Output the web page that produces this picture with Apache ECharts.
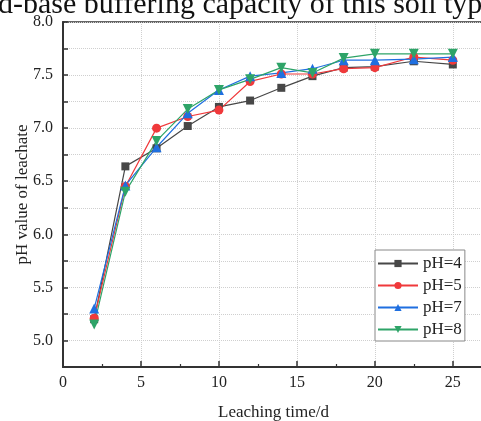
<!DOCTYPE html>
<html>
<head>
<meta charset="utf-8">
<script src="https://cdn.jsdelivr.net/npm/echarts@6/dist/echarts.min.js"></script>
<style>
  html, body { margin: 0; padding: 0; background: #fff; }
  #chart { width: 481px; height: 421px; }
</style>
</head>
<body>
<div id="chart"></div>
<script>
// Leaching time (days) at which leachate pH was measured
var leachDays = [2, 4, 6, 8, 10, 12, 14, 16, 18, 20, 22.5, 25];

// Leachate pH for each simulated rain pH
var pH4 = [5.20, 6.64, 6.81, 7.02, 7.20, 7.26, 7.38, 7.49, 7.57, 7.58, 7.63, 7.60];
var pH5 = [5.21, 6.45, 7.00, 7.11, 7.17, 7.44, 7.51, 7.51, 7.56, 7.57, 7.67, 7.64];
var pH7 = [5.30, 6.46, 6.82, 7.14, 7.36, 7.49, 7.52, 7.56, 7.64, 7.64, 7.65, 7.67];
var pH8 = [5.15, 6.40, 6.88, 7.18, 7.36, 7.46, 7.57, 7.52, 7.66, 7.70, 7.70, 7.70];

var seriesNames = ['pH=4', 'pH=5', 'pH=7', 'pH=8'];
var xTicks = [0, 5, 10, 15, 20, 25];

var FONT = '"Liberation Serif", "Times New Roman", serif';

function pairs(xs, ys) {
  return xs.map(function (x, i) { return [x, ys[i]]; });
}

function lineSeries(name, values, color, symbol, size, rotate) {
  return {
    name: name,
    type: 'line',
    data: pairs(leachDays, values),
    symbol: symbol,
    symbolSize: size,
    symbolRotate: rotate || 0,
    showSymbol: true,
    lineStyle: { color: color, width: 1.2 },
    itemStyle: { color: color },
    emphasis: { disabled: true },
    animation: false
  };
}

var chart = echarts.init(document.getElementById('chart'));
chart.setOption({
  backgroundColor: '#fff',
  animation: false,
  grid: {
    left: 63, top: 22, width: 421, height: 345,
    outerBoundsMode: 'none',
    containLabel: false,
    show: true, borderColor: '#333', borderWidth: 1.5,
    backgroundColor: 'transparent'
  },
  graphic: [{
    type: 'text',
    left: -2,
    top: -10,
    style: {
      text: 'd-base buffering capacity of this soil type',
      font: '30px ' + FONT,
      fill: '#111'
    }
  }],
  legend: {
    orient: 'vertical',
    left: 375,
    top: 250,
    data: seriesNames,
    itemWidth: 40,
    itemHeight: 9,
    itemGap: 5,
    padding: [5, 3, 3, 2],
    borderColor: '#888',
    borderWidth: 1,
    backgroundColor: '#fff',
    textStyle: { fontFamily: FONT, fontSize: 17, color: '#222', lineHeight: 17 }
  },
  xAxis: {
    type: 'value',
    min: 0,
    max: 27,
    interval: 5,
    name: 'Leaching time/d',
    nameLocation: 'middle',
    nameGap: 37,
    nameMoveOverlap: false,
    nameTextStyle: { fontFamily: FONT, fontSize: 17, color: '#222' },
    axisLine: { show: true, lineStyle: { color: '#333', width: 2 } },
    axisTick: { show: true, inside: true, length: 6, lineStyle: { color: '#333', width: 1.5 } },
    minorTick: { show: true, splitNumber: 2, length: 3, lineStyle: { color: '#333', width: 1.2 } },
    axisLabel: {
      fontFamily: FONT, fontSize: 16, color: '#222', margin: 8,
      formatter: function (v) { return xTicks.indexOf(v) >= 0 ? String(v) : ''; }
    },
    splitLine: { show: true, lineStyle: { color: '#cfcfcf', type: 'dotted', width: 1 } }
  },
  yAxis: {
    type: 'value',
    min: 4.75,
    max: 8.0,
    interval: 0.25,
    name: 'pH value of leachate',
    nameLocation: 'middle',
    nameGap: 32,
    nameMoveOverlap: false,
    nameTextStyle: { fontFamily: FONT, fontSize: 17, color: '#222' },
    axisLine: { show: true, lineStyle: { color: '#333', width: 2 } },
    axisTick: { show: true, inside: true, length: 5, lineStyle: { color: '#333', width: 1.5 } },
    axisLabel: {
      fontFamily: FONT, fontSize: 16, color: '#222', margin: 10,
      formatter: function (v) {
        var d = v * 2;
        return Math.abs(d - Math.round(d)) < 1e-6 && v > 4.9 ? v.toFixed(1) : '';
      }
    },
    splitLine: { show: true, lineStyle: { color: '#cfcfcf', type: 'dotted', width: 1 } }
  },
  series: [
    lineSeries('pH=4', pH4, '#474747', 'rect', 8),
    lineSeries('pH=5', pH5, '#f0393b', 'circle', 9),
    lineSeries('pH=7', pH7, '#1f6fe0', 'triangle', 10),
    lineSeries('pH=8', pH8, '#2ea468', 'triangle', 10, 180)
  ]
});
</script>
</body>
</html>
